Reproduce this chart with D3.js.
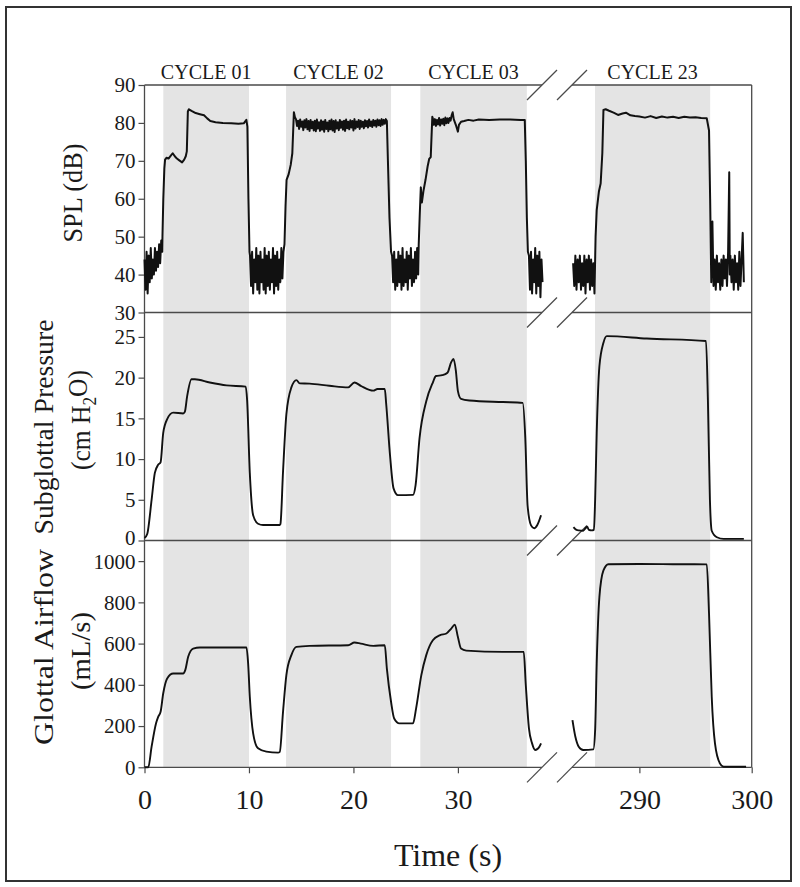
<!DOCTYPE html>
<html><head><meta charset="utf-8">
<script src="https://cdn.jsdelivr.net/npm/d3@7"></script>
<style>
body{margin:0;background:#fff}
text{font-family:"Liberation Serif","Times New Roman",serif;fill:#1a1a1a}
</style>
</head><body>
<svg id="chart" width="800" height="887"></svg>
<script>
// ---------------- DATA ----------------
const cycleLabels = ["CYCLE 01", "CYCLE 02", "CYCLE 03", "CYCLE 23"];
const cycleStart  = [1.8, 13.55, 26.4, 286.05];
const cycleEnd    = [10.0, 23.6, 36.6, 296.3];
const cycleSide   = ["L", "L", "L", "R"];

const xTicksLeft  = [0, 10, 20, 30];
const xTicksRight = [290, 300];
const splTicks      = [30, 40, 50, 60, 70, 80, 90];
const pressureTicks = [0, 5, 10, 15, 20, 25];
const airflowTicks  = [0, 200, 400, 600, 800, 1000];

// SPL (dB), [time s, value]
const splLeft = [
 [0.0,44],[0.1,36],[0.2,46],[0.3,35],[0.4,45],[0.5,38],[0.6,47],[0.7,39],[0.8,44],[0.9,40],[1.0,47],[1.1,41],[1.2,46],[1.3,42],[1.4,48],[1.5,43],[1.6,49],[1.7,46],
 [1.72,50],[1.8,60],[1.9,68],[1.97,70.3],[2.1,70.8],[2.3,70.6],[2.5,71.3],[2.7,72],[2.9,71.2],[3.1,70.6],[3.3,70.2],[3.6,69.6],[3.8,70.3],[3.95,71.2],[4.05,72.5],
 [4.15,83],[4.25,83.6],[4.5,83.2],[4.9,82.6],[5.3,82.3],[5.7,82],[6.0,81.2],[6.3,80.5],[6.8,80.2],[7.5,80],[8.3,79.9],[9.0,79.8],[9.5,79.9],[9.75,80.8],[9.85,79],[9.95,60],[10.05,46],
 [10.1,45],[10.2,37],[10.3,46],[10.4,35],[10.5,44],[10.6,38],[10.7,47],[10.8,36],[10.9,45],[11.0,35],[11.1,46],[11.2,38],[11.3,44],[11.4,36],[11.5,47],[11.6,35],[11.7,45],[11.8,37],[11.9,46],[12.0,36],[12.1,44],[12.2,38],[12.3,47],[12.4,35],[12.5,45],[12.6,37],[12.7,46],[12.8,36],[12.9,44],[13.0,38],[13.1,47],[13.2,39],[13.3,46],
 [13.4,48],[13.5,58],[13.6,65],[13.8,66.5],[14.0,69],[14.15,72],[14.3,82.8],[14.4,81.5],
 [14.5,81.0],[14.6,79.2],[14.7,80.6],[14.8,78.4],[14.9,80.9],[15.0,79.0],[15.1,80.4],[15.2,78.1],[15.3,80.7],[15.4,78.8],[15.5,81.0],[15.6,78.3],[15.7,80.5],[15.8,77.9],[15.9,80.8],[16.0,78.6],[16.1,80.3],[16.2,78.0],[16.3,80.6],[16.4,77.8],[16.5,80.9],[16.6,78.5],[16.7,80.2],[16.8,77.9],[16.9,80.7],[17.0,78.2],[17.1,80.4],[17.2,77.7],[17.3,80.8],[17.4,78.4],[17.5,80.1],[17.6,77.8],[17.7,80.6],[17.8,78.3],[17.9,80.9],[18.0,78.0],[18.1,80.5],[18.2,77.6],[18.3,80.7],[18.4,78.5],[18.5,80.2],[18.6,78.1],[18.7,80.8],[18.8,78.7],[18.9,80.4],[19.0,78.2],[19.1,80.6],[19.2,77.9],[19.3,80.9],[19.4,78.6],[19.5,80.3],[19.6,78.3],[19.7,80.7],[19.8,78.8],[19.9,80.5],[20.0,78.0],[20.1,81.0],[20.2,78.5],[20.3,80.4],[20.4,78.9],[20.5,80.8],[20.6,78.4],[20.7,80.6],[20.8,79.0],[20.9,80.3],[21.0,78.6],[21.1,80.7],[21.2,79.1],[21.3,80.5],[21.4,78.8],[21.5,80.9],[21.6,79.2],[21.7,80.4],[21.8,78.9],[21.9,80.8],[22.0,79.3],[22.1,80.6],[22.2,79.0],[22.3,80.9],[22.4,79.4],[22.5,80.7],[22.6,79.2],[22.7,81.0],[22.8,79.5],[22.9,80.8],[23.0,79.8],
 [23.1,81],[23.2,80.5],[23.3,70],[23.45,55],[23.6,46],
 [23.7,45],[23.8,38],[23.9,46],[24.0,36],[24.1,44],[24.2,37],[24.3,46],[24.4,38],[24.5,45],[24.6,36],[24.7,47],[24.8,37],[24.9,44],[25.0,38],[25.1,46],[25.2,36],[25.3,45],[25.4,39],[25.5,47],[25.6,37],[25.7,44],[25.8,38],[25.9,46],[26.0,39],[26.1,47],[26.2,40],
 [26.25,48],[26.35,56],[26.45,63],[26.55,59],[26.7,62],[26.9,65],[27.1,68.5],[27.25,70.5],[27.4,71],[27.55,81.6],
 [27.6,81.2],[27.7,79.5],[27.8,81.0],[27.9,79.2],[28.0,80.8],[28.1,79.6],[28.2,81.3],[28.3,79.3],[28.4,80.9],[28.5,79.8],[28.6,81.1],[28.7,79.4],[28.8,81.4],[28.9,79.9],[29.0,81.2],[29.1,80.0],[29.2,81.3],[29.3,80.6],
 [29.4,82],[29.5,82.8],[29.6,81],[29.8,79.5],[30.0,77.7],[30.1,79.5],[30.3,80.3],[30.6,80.5],[31.0,80.8],[31.5,80.6],[32.0,80.9],[33.0,80.8],[34.0,80.9],[35.0,80.9],[36.0,80.8],[36.4,80.8],[36.5,70],[36.6,55],[36.7,46],
 [36.8,45],[36.9,36],[37.0,46],[37.1,35],[37.2,44],[37.3,38],[37.4,47],[37.5,35],[37.6,45],[37.7,37],[37.8,46],[37.9,34],[38.0,44],[38.1,38]
];
const splRight = [
 [284.1,43],[284.2,37],[284.3,45],[284.4,36],[284.5,44],[284.6,38],[284.7,45],[284.8,36],[284.9,43],[285.0,37],[285.1,45],[285.2,35],[285.3,44],[285.4,38],[285.5,45],[285.6,36],[285.7,44],[285.8,37],[285.9,43],[286.0,35],
 [286.1,50],[286.2,57],[286.4,62],[286.55,64],[286.7,72],[286.8,83.4],[287.0,83.6],[287.3,83.2],[287.7,82.7],[288.1,82.1],[288.5,82.5],[288.8,82.7],[289.2,82],[289.6,81.8],[290.0,81.7],
 [290.5,81.4],[291.0,81.8],[291.5,81.3],[292.0,81.7],[292.5,81.4],[293.0,81.6],[293.5,81.3],[294.0,81.6],[294.5,81.4],[295.0,81.5],[295.5,81.3],[296.0,81.2],[296.2,78],[296.3,60],
 [296.4,38],[296.5,54],[296.6,37],[296.7,44],[296.8,36],[296.9,45],[297.0,38],[297.1,43],[297.2,36],[297.3,44],[297.4,37],[297.5,45],[297.6,39],[297.7,44],[297.8,37],[297.9,46],[298.0,67],[298.05,40],[298.1,45],[298.2,38],[298.3,44],[298.4,36],[298.5,45],[298.6,38],[298.7,43],[298.8,36],[298.9,46],[299.0,37],[299.1,44],[299.2,51],[299.3,38]
];

// Subglottal pressure (cm H2O)
const pressureLeft = [
 [0,0.3],[0.26,0.8],[0.68,5],[0.99,8.3],[1.31,9.3],[1.54,9.6],[1.79,13.2],[2.17,14.9],[2.75,15.7],[3.7,15.6],[3.86,15.8],[4.08,17.7],[4.5,19.8],[4.82,19.8],[6.25,19.4],[7.85,19.05],[9.69,18.9],[9.82,17.3],[10.08,8.3],[10.4,3.1],[10.87,2.06],[11.35,1.9],[12.94,1.9],[13.01,2.0],
 [13.26,8.45],[13.58,15.5],[14.06,18.8],[14.54,19.7],[14.86,19.3],[15.8,19.27],[17.7,19.0],[19.5,18.8],[20.1,19.4],[20.7,19.0],[21.9,18.4],[22.3,18.6],[23.0,18.6],[23.14,16.7],[23.5,10.5],[23.84,6.4],[24.26,5.57],[25.7,5.6],[25.95,6.8],
 [26.33,12.6],[26.97,17.1],[27.6,19.4],[27.9,20.2],[28.5,20.3],[29.0,20.6],[29.36,21.9],[29.58,22.3],[29.8,20.9],[30.0,18.35],[30.3,17.4],[31.1,17.2],[34.3,17.0],[36.2,16.9],[36.45,12.6],[36.67,4.3],[37.0,1.86],[37.3,1.5],[37.6,1.9],[37.96,3.1]
];
const pressureRight = [
 [284.13,1.65],[284.4,1.3],[284.6,1.24],[285.0,1.2],[285.2,1.5],[285.35,1.7],[285.5,1.3],[285.76,1.24],[285.95,1.3],[286.06,5],[286.2,13.2],[286.44,21.4],[286.8,24.3],[287.1,25.1],[290.66,24.8],[295.93,24.5],[296.1,17.3],[296.28,5.0],[296.44,1.2],[296.9,0.4],[297.5,0.2],[299.3,0.2]
];

// Glottal airflow (mL/s)
const airflowLeft = [
 [0,0],[0.36,0],[0.68,100],[1.1,213],[1.31,245],[1.54,269],[1.79,358],[2.17,431],[2.75,455],[3.7,455],[3.9,471],[4.18,536],[4.66,576],[5.3,581],[9.76,581],[9.92,504],[10.08,342],[10.4,165],[10.87,92],[11.67,76],[12.78,71],[12.95,75],
 [13.26,269],[13.58,447],[14.06,544],[14.54,584],[15.8,589],[19.5,592],[20.1,605],[20.7,600],[21.9,589],[23.0,592],[23.2,479],[23.6,318],[23.9,237],[24.4,213],[25.7,213],[26.0,286],
 [26.5,447],[26.97,544],[27.6,616],[28.3,641],[28.9,649],[29.36,673],[29.7,692],[30.0,632],[30.3,576],[30.8,566],[34.3,560],[36.3,560],[36.5,398],[36.8,189],[37.1,116],[37.4,84],[37.8,100],[37.96,116]
];
const airflowRight = [
 [284.04,229],[284.3,148],[284.6,100],[285.0,84],[285.9,87],[286.06,181],[286.2,504],[286.44,826],[286.8,955],[287.24,985],[290,986],[293,985],[296.0,984],[296.2,746],[296.44,342],[296.73,116],[297.17,19],[297.5,3],[299.5,3]
];

// ---------------- CHART ----------------
const svg = d3.select("#chart");
const xL = d3.scaleLinear().domain([0, 38.05]).range([144.5, 542]);
const xR = d3.scaleLinear().domain([284, 300]).range([572, 751.7]);
const yS = d3.scaleLinear().domain([30, 90]).range([312.5, 85]);
const yP = d3.scaleLinear().domain([0, 28]).range([540.5, 312.5]);
const yF = d3.scaleLinear().domain([0, 1100]).range([767.3, 540.5]);
const plotTop = 85, plotBottom = 767.3;
const axisCol = "#4a4a4a";

// outer frame
svg.append("rect").attr("x", 6).attr("y", 7).attr("width", 785).attr("height", 874)
  .attr("fill", "none").attr("stroke", "#333").attr("stroke-width", 2);

// shaded cycles
cycleLabels.forEach((lab, i) => {
  const sx = cycleSide[i] === "L" ? xL : xR;
  const x0 = sx(cycleStart[i]), x1 = sx(cycleEnd[i]);
  svg.append("rect").attr("x", x0).attr("y", plotTop).attr("width", x1 - x0).attr("height", plotBottom - plotTop)
    .attr("fill", "#e4e4e4");
  svg.append("text").attr("x", (x0 + x1) / 2).attr("y", 79).attr("text-anchor", "middle")
    .attr("font-size", 20).text(lab);
});

// frame lines
const hLines = [yS(90), yS(30), yP(0), yF(0)];
hLines.forEach(y => {
  svg.append("line").attr("x1", xL.range()[0]).attr("x2", xL.range()[1]).attr("y1", y).attr("y2", y)
    .attr("stroke", axisCol).attr("stroke-width", 1.3);
  svg.append("line").attr("x1", xR.range()[0]).attr("x2", xR.range()[1]).attr("y1", y).attr("y2", y)
    .attr("stroke", axisCol).attr("stroke-width", 1.3);
  [xL.range()[1], xR.range()[0]].forEach(cx => {
    svg.append("line").attr("x1", cx - 15).attr("y1", y + 15).attr("x2", cx + 15).attr("y2", y - 15)
      .attr("stroke", axisCol).attr("stroke-width", 1.2);
  });
});
svg.append("line").attr("x1", xL.range()[0]).attr("x2", xL.range()[0]).attr("y1", plotTop).attr("y2", plotBottom)
  .attr("stroke", axisCol).attr("stroke-width", 1.3);
svg.append("line").attr("x1", xR.range()[1]).attr("x2", xR.range()[1]).attr("y1", plotTop).attr("y2", plotBottom)
  .attr("stroke", axisCol).attr("stroke-width", 1.3);

// y axes
function yAxis(scale, ticks, nudge) {
  const g = svg.append("g").attr("transform", `translate(${xL.range()[0]},0)`)
    .call(d3.axisLeft(scale).tickValues(ticks).tickSize(6).tickPadding(3).tickFormat(d3.format("d")));
  g.select(".domain").remove();
  g.selectAll(".tick line").attr("stroke", axisCol).attr("stroke-width", 1.2);
  g.selectAll(".tick text").attr("font-size", 21).attr("font-family", "Liberation Serif").attr("fill", "#1a1a1a")
    .attr("y", d => nudge[d] || 0);
}
yAxis(yS, splTicks, {});
yAxis(yP, pressureTicks, {0: -3});
yAxis(yF, airflowTicks, {1000: 1});

// x axes
function xAxis(scale, ticks) {
  const g = svg.append("g").attr("transform", `translate(0,${plotBottom})`)
    .call(d3.axisBottom(scale).tickValues(ticks).tickSize(6).tickPadding(16).tickFormat(d3.format("d")));
  g.select(".domain").remove();
  g.selectAll(".tick line").attr("stroke", axisCol).attr("stroke-width", 1.2);
  g.selectAll(".tick text").attr("font-size", 28).attr("font-family", "Liberation Serif").attr("fill", "#1a1a1a");
}
xAxis(xL, xTicksLeft);
xAxis(xR, xTicksRight);

// series
function draw(data, sx, sy, w, curve) {
  const line = d3.line().x(d => sx(d[0])).y(d => sy(d[1])).curve(curve);
  svg.append("path").datum(data).attr("d", line).attr("fill", "none")
    .attr("stroke", "#111").attr("stroke-width", w).attr("stroke-linejoin", "round");
}
draw(splLeft, xL, yS, 2.0, d3.curveLinear);
draw(splRight, xR, yS, 2.0, d3.curveLinear);
draw(pressureLeft, xL, yP, 1.9, d3.curveMonotoneX);
draw(pressureRight, xR, yP, 1.9, d3.curveMonotoneX);
draw(airflowLeft, xL, yF, 1.9, d3.curveMonotoneX);
draw(airflowRight, xR, yF, 1.9, d3.curveMonotoneX);

// axis titles
function vText(x, y, len) {
  return svg.append("text").attr("transform", `translate(${x},${y}) rotate(-90)`)
    .attr("text-anchor", "middle").attr("dy", "0.35em").attr("font-size", 28)
    .attr("textLength", len).attr("lengthAdjust", "spacingAndGlyphs");
}
vText(72, 193, 99).text("SPL (dB)");
vText(43, 427, 215).text("Subglottal Pressure");
const ch = vText(80, 420, 100);
ch.append("tspan").text("(cm H");
ch.append("tspan").attr("font-size", 19).attr("dy", "0.3em").text("2");
ch.append("tspan").attr("dy", "-0.3em").text("O)");
vText(43, 647, 196).text("Glottal Airflow");
vText(80, 651, 78).text("(mL/s)");

svg.append("text").attr("x", 448).attr("y", 866).attr("text-anchor", "middle")
  .attr("font-size", 32).text("Time (s)");
</script>
</body></html>
